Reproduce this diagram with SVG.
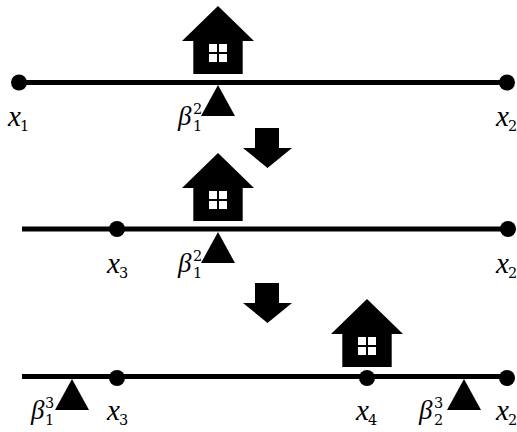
<svg xmlns="http://www.w3.org/2000/svg" width="517" height="432" viewBox="0 0 517 432">
<style>
.m{font-family:"Liberation Serif","DejaVu Serif",serif;font-style:italic;font-size:29px;fill:#000}
.b{font-family:"Liberation Serif","DejaVu Serif",serif;font-style:italic;font-size:27px;fill:#000}
.s{font-family:"DejaVu Serif","Liberation Serif",serif;font-size:14.5px;fill:#000}
.l{stroke:#000;stroke-width:5;fill:none}
</style>
<defs>
<g id="house">
<path d="M0 0L36 35H24.7V68H-24.7V35H-36Z" fill="#000"/>
<path d="M-9 38H-1V46H-9ZM1 38H9V46H1ZM-9 48H-1V56H-9ZM1 48H9V56H1Z" fill="#fff"/>
</g>
<path id="tri" d="M0 0L17 31H-17Z" fill="#000"/>
<path id="arrow" d="M-12 0H12V20H25L0.500 40L-24 20H-12Z" fill="#000"/>
</defs>
<g id="connectors">
<path class="l" d="M19 82.500H507"/>
<path class="l" d="M22 229H508"/>
<path class="l" d="M22 376.500H507"/>
</g>
<g id="house1"><use href="#house" x="218" y="6"/></g>
<g id="house2"><use href="#house" x="218" y="153"/></g>
<g id="house3"><use href="#house" x="367" y="299"/></g>
<g id="pivot1"><use href="#tri" x="218" y="85"/></g>
<g id="pivot2"><use href="#tri" x="218" y="232"/></g>
<g id="pivot3"><use href="#tri" x="72" y="379"/></g>
<g id="pivot4"><use href="#tri" x="464" y="379"/></g>
<g id="arrow1"><use href="#arrow" x="267" y="128"/></g>
<g id="arrow2"><use href="#arrow" x="267" y="283"/></g>
<g id="dots" fill="#000">
<circle id="n1" cx="19" cy="82.500" r="8"/>
<circle id="n2" cx="507" cy="82.500" r="8"/>
<circle id="n3" cx="117" cy="229" r="8"/>
<circle id="n4" cx="508" cy="229" r="8"/>
<circle id="n5" cx="117" cy="378" r="8"/>
<circle id="n6" cx="367" cy="378" r="8"/>
<circle id="n7" cx="507" cy="378" r="8"/>
</g>
<g id="labels">
<text class="m" x="8" y="126">x</text><text class="s" x="20" y="131">1</text>
<text class="m" x="496" y="126">x</text><text class="s" x="508" y="131">2</text>
<text class="b" x="178" y="125">β</text><text class="s" x="193" y="114">2</text><text class="s" x="193" y="131">1</text>
<text class="m" x="107" y="273">x</text><text class="s" x="119" y="278">3</text>
<text class="m" x="496" y="273">x</text><text class="s" x="508" y="278">2</text>
<text class="b" x="178" y="272">β</text><text class="s" x="193" y="261">2</text><text class="s" x="193" y="278">1</text>
<text class="b" x="31" y="419">β</text><text class="s" x="45" y="408">3</text><text class="s" x="45" y="425">1</text>
<text class="m" x="107" y="420">x</text><text class="s" x="119" y="425">3</text>
<text class="m" x="356" y="420">x</text><text class="s" x="368" y="425">4</text>
<text class="b" x="419" y="419">β</text><text class="s" x="434" y="408">3</text><text class="s" x="434" y="425">2</text>
<text class="m" x="496" y="420">x</text><text class="s" x="508" y="425">2</text>
</g>
</svg>
